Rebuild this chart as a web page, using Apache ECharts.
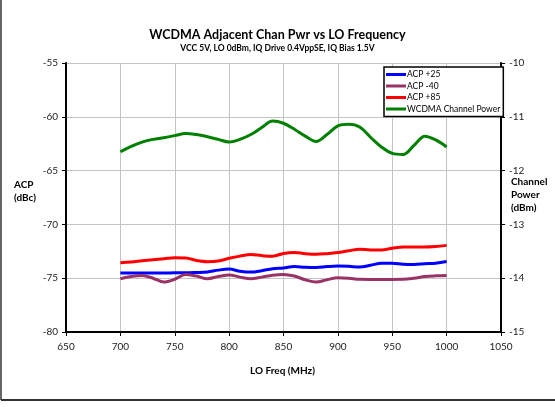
<!DOCTYPE html>
<html>
<head>
<meta charset="utf-8">
<script src="https://cdn.jsdelivr.net/npm/echarts@6/dist/echarts.min.js"></script>
<style>
  html, body { margin: 0; padding: 0; background: #fff; }
  #chart { width: 555px; height: 407px; }
</style>
</head>
<body>
<div id="chart"></div>
<script>
// LO frequency (MHz)
const freqs = [700, 710, 720, 730, 740, 750, 760, 770, 780, 790, 800, 810, 820, 830, 840, 850,
  860, 870, 880, 890, 900, 910, 920, 930, 940, 950, 960, 970, 980, 990, 1000]

// ACP (dBc) per temperature
const acp25 = [-74.52, -74.52, -74.52, -74.52, -74.52, -74.5, -74.5, -74.47, -74.42, -74.25, -74.15,
  -74.35, -74.43, -74.3, -74.12, -74.05, -73.92, -73.98, -74.0, -73.92, -73.87, -73.9, -73.96,
  -73.8, -73.6, -73.6, -73.7, -73.72, -73.66, -73.6, -73.44]
const acpM40 = [-75.05, -74.85, -74.74, -75.0, -75.36, -75.1, -74.65, -74.8, -75.05, -74.85, -74.7,
  -74.9, -75.05, -74.9, -74.72, -74.65, -74.8, -75.15, -75.36, -75.15, -74.95, -75.0, -75.1,
  -75.11, -75.11, -75.11, -75.1, -75.0, -74.85, -74.78, -74.74]
const acp85 = [-73.56, -73.5, -73.38, -73.28, -73.2, -73.1, -73.12, -73.35, -73.46, -73.4, -73.15,
  -72.95, -72.8, -72.9, -72.95, -72.7, -72.6, -72.72, -72.78, -72.72, -72.62, -72.45, -72.3,
  -72.38, -72.38, -72.22, -72.1, -72.1, -72.1, -72.05, -71.95]

// WCDMA channel power (dBm)
const chanPwr = [-11.65, -11.55, -11.47, -11.42, -11.39, -11.35, -11.31, -11.33, -11.37, -11.42, -11.47,
  -11.42, -11.33, -11.2, -11.08, -11.12, -11.23, -11.36, -11.46, -11.33, -11.17, -11.14, -11.19,
  -11.38, -11.56, -11.68, -11.7, -11.53, -11.36, -11.43, -11.56]

const font = 'Lato, "Open Sans", sans-serif'
const pair = (ys) => freqs.map((f, i) => [f, ys[i]])

const chart = echarts.init(document.getElementById('chart'))

const mkLine = (name, data, color, yIdx) => ({
  name,
  type: 'line',
  yAxisIndex: yIdx,
  data: pair(data),
  smooth: 0.35,
  symbol: 'none',
  lineStyle: { color, width: 3 },
  itemStyle: { color }
})

const option = {
  animation: false,
  backgroundColor: '#fff',
  textStyle: { fontFamily: font },
  title: {
    text: 'WCDMA Adjacent Chan Pwr vs LO Frequency',
    subtext: 'VCC 5V, LO 0dBm, IQ Drive 0.4VppSE, IQ Bias 1.5V',
    left: 'center',
    top: 23,
    itemGap: 3,
    textStyle: { fontSize: 12.5, fontWeight: 'bold', color: '#000', fontFamily: font },
    subtextStyle: { fontSize: 8.5, fontWeight: 'bold', color: '#000', fontFamily: font }
  },
  legend: {
    orient: 'vertical',
    left: 384,
    top: 67,
    padding: [3, 3, 3, 2],
    itemGap: 2.5,
    itemWidth: 20,
    itemHeight: 3,
    icon: 'rect',
    borderColor: '#000',
    borderWidth: 1.5,
    backgroundColor: '#fff',
    textStyle: { fontSize: 8.5, color: '#000', padding: [0, 0, 0, -4] },
    data: ['ACP +25', 'ACP -40', 'ACP +85', 'WCDMA Channel Power']
  },
  grid: { left: 66, right: 54, top: 63, bottom: 75 },
  xAxis: {
    type: 'value',
    min: 650,
    max: 1050,
    interval: 50,
    axisLine: { lineStyle: { color: '#000', width: 2 } },
    axisTick: { show: true, length: 4, lineStyle: { color: '#000' } },
    axisLabel: { fontSize: 10, color: '#222', margin: 10, formatter: (v) => String(v) },
    splitLine: { show: true, lineStyle: { color: '#c4c4c4', width: 1 } }
  },
  yAxis: [
    {
      type: 'value',
      min: -80,
      max: -55,
      interval: 5,
      axisLine: { show: true, lineStyle: { color: '#000', width: 2 } },
      axisTick: { show: true, length: 4, lineStyle: { color: '#000' } },
      axisLabel: { fontSize: 10, color: '#222', margin: 8 },
      splitLine: { show: true, lineStyle: { color: '#c4c4c4', width: 1 } }
    },
    {
      type: 'value',
      min: -15,
      max: -10,
      interval: 1,
      axisLine: { show: true, lineStyle: { color: '#000', width: 2 } },
      axisTick: { show: true, length: 4, lineStyle: { color: '#000' } },
      axisLabel: { fontSize: 10, color: '#222', margin: 8 },
      splitLine: { show: false }
    }
  ],
  graphic: [
    // outer chart frame (left and bottom edges)
    { type: 'line', shape: { x1: 1, y1: 0, x2: 1, y2: 400 }, style: { stroke: '#333', lineWidth: 1.5 } },
    { type: 'line', shape: { x1: 1, y1: 400, x2: 555, y2: 400 }, style: { stroke: '#333', lineWidth: 2 } },
    {
      type: 'text', left: 14, top: 178,
      style: { text: 'ACP\n(dBc)', font: 'bold 10px ' + font, fill: '#000', align: 'center', lineHeight: 13 }
    },
    {
      type: 'text', left: 511, top: 175,
      style: { text: 'Channel\nPower\n(dBm)', font: 'bold 10px ' + font, fill: '#000', align: 'center', lineHeight: 13 }
    },
    {
      type: 'text', left: 250, top: 366,
      style: { text: 'LO Freq (MHz)', font: 'bold 10px ' + font, fill: '#000' }
    }
  ],
  series: [
    mkLine('ACP +25', acp25, '#0000ff', 0),
    mkLine('ACP -40', acpM40, '#993366', 0),
    mkLine('ACP +85', acp85, '#ff0000', 0),
    mkLine('WCDMA Channel Power', chanPwr, '#008000', 1)
  ]
}

chart.setOption(option)
window.addEventListener('resize', () => chart.resize())
</script>
</body>
</html>
